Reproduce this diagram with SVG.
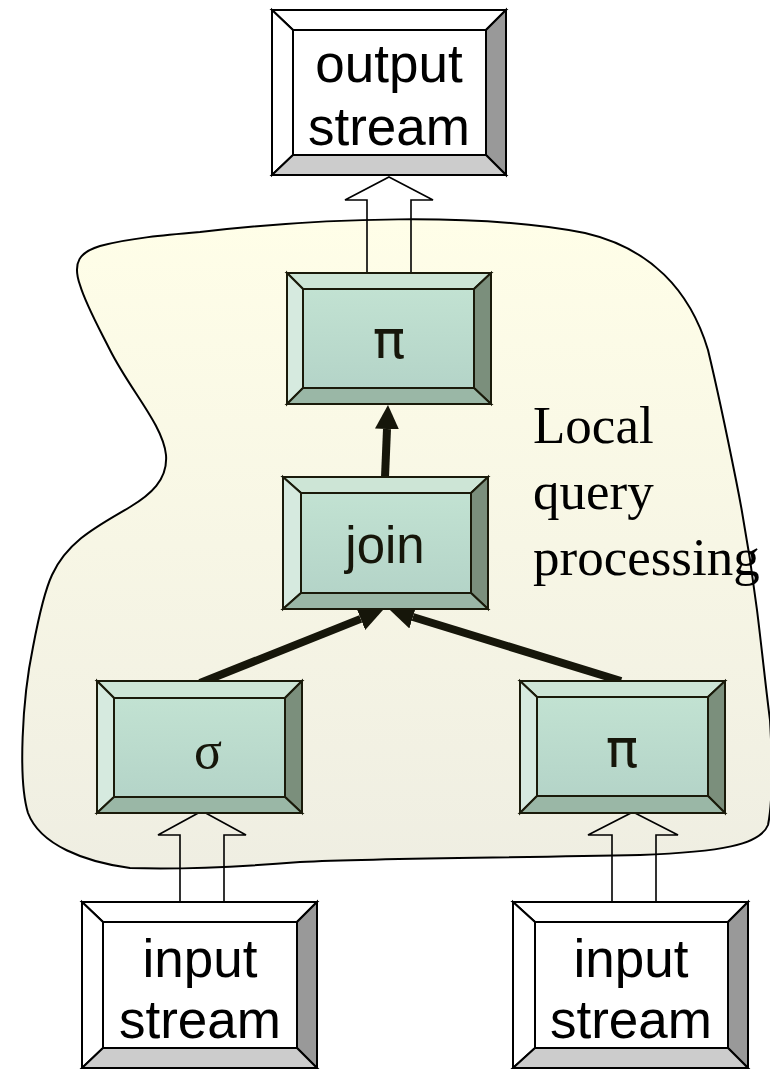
<svg xmlns="http://www.w3.org/2000/svg" width="770" height="1069" viewBox="0 0 770 1069">
  <defs>
    <linearGradient id="regionFill" x1="0" y1="0" x2="0" y2="1">
      <stop offset="0" stop-color="#fffee8"/>
      <stop offset="1" stop-color="#efeee2"/>
    </linearGradient>
    <linearGradient id="opFace" x1="0" y1="0" x2="0" y2="1">
      <stop offset="0" stop-color="#c2e2d2"/>
      <stop offset="1" stop-color="#b4d4c8"/>
    </linearGradient>
    <marker id="head" viewBox="0 -12 24 24" refX="0" refY="0" markerWidth="24" markerHeight="24" markerUnits="userSpaceOnUse" orient="auto">
      <path d="M0,-12 L24,0 L0,12 Z" fill="#16160a"/>
    </marker>
    <style>
      .edge { fill: none; stroke: #16160a; stroke-width: 8; }
      .pipe { fill: none; stroke: #000; stroke-width: 1.6; stroke-linejoin: miter; }
      .op polygon, .op rect { stroke: #1a1a0a; stroke-width: 2; stroke-linejoin: miter; }
      .op .top { fill: #cde5d6; }
      .op .left { fill: #d6eadf; }
      .op .right { fill: #7b8f7c; }
      .op .bottom { fill: #9ab7a6; }
      .op .face { fill: url(#opFace); }
      .io polygon, .io rect { stroke: #000; stroke-width: 2; stroke-linejoin: miter; }
      .io .top, .io .left, .io .face { fill: #ffffff; }
      .io .right { fill: #999999; }
      .io .bottom { fill: #cccccc; }
      .sans { font-family: "Liberation Sans", Arial, sans-serif; fill: #000; text-anchor: middle; }
      .optext { font-family: "Liberation Sans", Arial, sans-serif; fill: #16160a; text-anchor: middle; }
      .pi { font-family: "DejaVu Sans", "Liberation Sans", sans-serif; fill: #16160a; text-anchor: middle; }
      .serif { font-family: "Liberation Serif", "Times New Roman", serif; fill: #000; }
    </style>
  </defs>

  <!-- local processing region -->
  <path id="region" d="M 200 232 C 320 218, 480 212, 585 233 C 650 248, 690 290, 708 350 C 720 400, 728 440, 736 480 C 746 530, 752 570, 757 610 C 762 650, 766 690, 770 720 C 773 770, 772 805, 768 825 C 760 845, 720 852, 640 855 C 500 858, 380 858, 300 862 C 250 866, 190 870, 130 868 C 85 862, 40 845, 28 813 C 18 780, 22 700, 33 647 C 40 610, 45 590, 52 575 C 68 540, 100 525, 130 507 C 150 495, 168 480, 166 455 C 163 425, 130 390, 110 350 C 100 330, 86 305, 80 285 C 72 262, 80 252, 100 246 C 130 238, 165 235, 200 232 Z" fill="url(#regionFill)" stroke="#000" stroke-width="2"/>

  <text class="serif" font-size="53">
    <tspan x="533" y="443">Local</tspan>
    <tspan x="533" y="509">query</tspan>
    <tspan x="533" y="575">processing</tspan>
  </text>

  <!-- connectors -->
  <g id="connectors">
    <polygon class="pipe" points="389,177 433,200 411,200 411,273 367,273 367,200 345,200"/>
    <polygon class="pipe" points="202,811 246,835 224,835 224,902 180,902 180,835 158,835"/>
    <polygon class="pipe" points="633,812 678,835 656,835 656,902 612,902 612,835 588,835"/>
    <line class="edge" x1="385" y1="477" x2="387" y2="429" marker-end="url(#head)"/>
    <line class="edge" x1="200" y1="683" x2="360.7" y2="618.9" marker-end="url(#head)"/>
    <line class="edge" x1="621" y1="681" x2="412.9" y2="617" marker-end="url(#head)"/>
  </g>

  <!-- output stream -->
  <g id="output-stream" class="io">
    <polygon class="top" points="272,10 506,10 486,30 293,30"/>
    <polygon class="left" points="272,10 293,30 293,155 272,175"/>
    <polygon class="right" points="506,10 506,175 486,155 486,30"/>
    <polygon class="bottom" points="272,175 293,155 486,155 506,175"/>
    <rect class="face" x="293" y="30" width="193" height="125"/>
    <text class="sans" font-size="53"><tspan x="389" y="82">output</tspan><tspan x="389" y="145">stream</tspan></text>
  </g>

  <!-- projection (top) -->
  <g id="project-top" class="op">
    <polygon class="top" points="287,273 491,273 474,289 303,289"/>
    <polygon class="left" points="287,273 303,289 303,388 287,404"/>
    <polygon class="right" points="491,273 491,404 474,388 474,289"/>
    <polygon class="bottom" points="287,404 303,388 474,388 491,404"/>
    <rect class="face" x="303" y="289" width="171" height="99"/>
    <text class="pi" font-size="54" x="389" y="358">π</text>
  </g>

  <!-- join -->
  <g id="join" class="op">
    <polygon class="top" points="283,477 488,477 471,493 301,493"/>
    <polygon class="left" points="283,477 301,493 301,593 283,609"/>
    <polygon class="right" points="488,477 488,609 471,593 471,493"/>
    <polygon class="bottom" points="283,609 301,593 471,593 488,609"/>
    <rect class="face" x="301" y="493" width="170" height="100"/>
    <text class="optext" font-size="51" x="385" y="563">join</text>
  </g>

  <!-- selection -->
  <g id="select" class="op">
    <polygon class="top" points="97,681 302,681 285,698 114,698"/>
    <polygon class="left" points="97,681 114,698 114,797 97,813"/>
    <polygon class="right" points="302,681 302,813 285,797 285,698"/>
    <polygon class="bottom" points="97,813 114,797 285,797 302,813"/>
    <rect class="face" x="114" y="698" width="171" height="99"/>
    <text font-family="'Liberation Serif', 'Times New Roman', serif" fill="#16160a" text-anchor="middle" font-size="52" x="208" y="768">σ</text>
  </g>

  <!-- projection (right) -->
  <g id="project-right" class="op">
    <polygon class="top" points="520,681 725,681 708,697 537,697"/>
    <polygon class="left" points="520,681 537,697 537,796 520,813"/>
    <polygon class="right" points="725,681 725,813 708,796 708,697"/>
    <polygon class="bottom" points="520,813 537,796 708,796 725,813"/>
    <rect class="face" x="537" y="697" width="171" height="99"/>
    <text class="pi" font-size="54" x="622" y="767">π</text>
  </g>

  <!-- input streams -->
  <g id="input-left" class="io">
    <polygon class="top" points="82,902 317,902 297,922 103,922"/>
    <polygon class="left" points="82,902 103,922 103,1048 82,1068"/>
    <polygon class="right" points="317,902 317,1068 297,1048 297,922"/>
    <polygon class="bottom" points="82,1068 103,1048 297,1048 317,1068"/>
    <rect class="face" x="103" y="922" width="194" height="126"/>
    <text class="sans" font-size="53"><tspan x="200" y="977">input</tspan><tspan x="200" y="1038">stream</tspan></text>
  </g>

  <g id="input-right" class="io">
    <polygon class="top" points="513,902 748,902 728,922 535,922"/>
    <polygon class="left" points="513,902 535,922 535,1048 513,1068"/>
    <polygon class="right" points="748,902 748,1068 728,1048 728,922"/>
    <polygon class="bottom" points="513,1068 535,1048 728,1048 748,1068"/>
    <rect class="face" x="535" y="922" width="193" height="126"/>
    <text class="sans" font-size="53"><tspan x="631" y="977">input</tspan><tspan x="631" y="1038">stream</tspan></text>
  </g>
</svg>
